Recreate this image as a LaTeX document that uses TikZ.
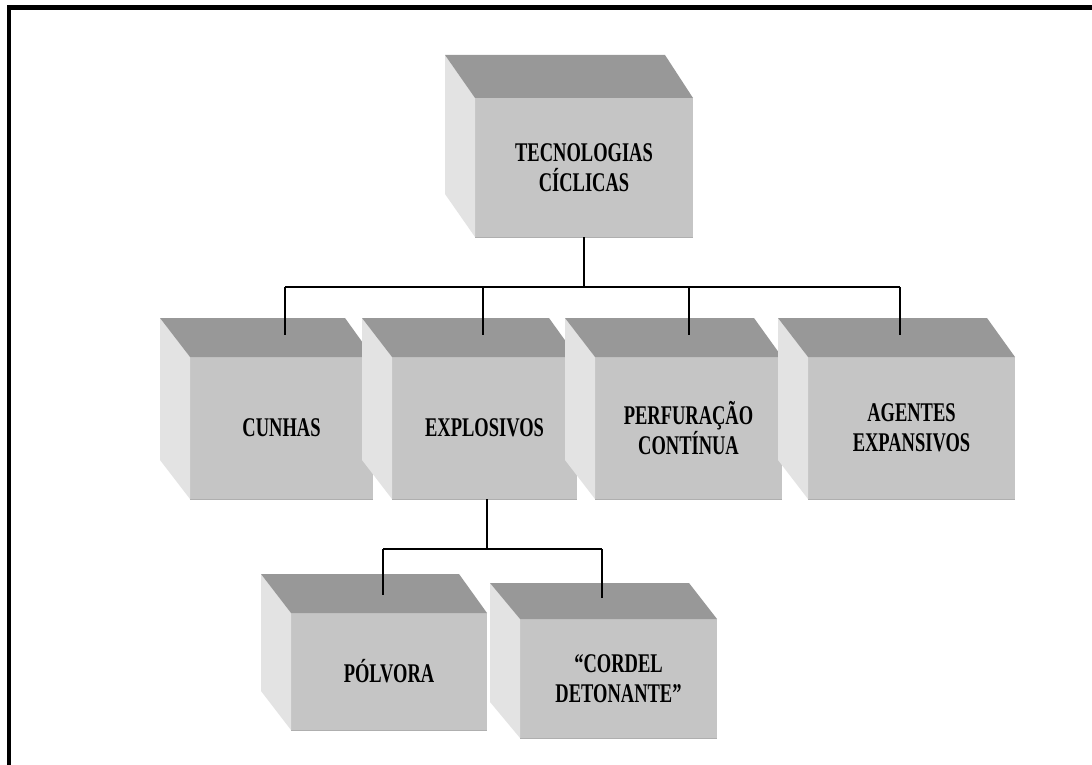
\documentclass[tikz,border=0pt]{standalone}
\usepackage{fontspec}
\newfontfamily\boxfam{Liberation Serif}[FakeStretch=0.685]
\definecolor{topgray}{RGB}{152,152,152}
\definecolor{frontgray}{RGB}{197,197,197}
\definecolor{sidegray}{RGB}{227,227,227}
\definecolor{edgegray}{RGB}{175,175,175}
\tikzset{
  frontface/.style={fill=frontgray, inner sep=0pt, outer sep=0pt, align=center,
    font=\boxfam\bfseries\fontsize{27}{30}\selectfont, text=black},
  topface/.style={fill=topgray},
  sideface/.style={fill=sidegray},
  link/.style={draw=black, line width=1.8pt},
  frame/.style={draw=black, line width=4.5pt},
}
% name, left, top, right, bottom, depth, text
\newcommand\cubebox[7]{%
  \node[frontface, minimum width={(#4-#2)*1pt}, minimum height={(#5-#3)*1pt}]
    (#1) at ({(#2+#4)/2},{(#3+#5)/2}) {#7};
  \fill[sideface] (#1.north west) -- ++(-30,-#6) -- ([shift={(-30,-#6)}]#1.south west)
    -- (#1.south west) -- cycle;
  \fill[topface] (#1.north west) -- ++(-30,-#6) -- ([shift={(-28,-#6)}]#1.north east)
    -- (#1.north east) -- cycle;
  \draw[edgegray, line width=1pt] (#1.south west) -- (#1.south east);
}
\begin{document}
\begin{tikzpicture}[x=1pt, y=-1pt]
\useasboundingbox[fill=white] (0,0) rectangle (1092,765);
% frame (top and left edges only)
\draw[frame] (9,765) -- (9,7.5) -- (1092,7.5);

% boxes
\cubebox{tec}{475}{98}{693}{237}{43}{TECNOLOGIAS\\CÍCLICAS}
\cubebox{cunhas}{190}{357}{373}{499}{39}{CUNHAS}
\cubebox{expl}{392}{357}{577}{499}{39}{EXPLOSIVOS}
\cubebox{perf}{595}{357}{782}{499}{39}{PERFURAÇÃO\\CONTÍNUA}
\cubebox{agen}{808}{357}{1015}{499}{39}{AGENTES\\EXPANSIVOS}
\cubebox{polv}{291}{613}{487}{730}{39}{PÓLVORA}
\cubebox{cord}{520}{619}{717}{738}{36}{“CORDEL\\DETONANTE”}

% connector coordinates
\coordinate (bus1) at (0,287);
\coordinate (d1) at (285,335);
\coordinate (d2) at (483,335);
\coordinate (d3) at (689,335);
\coordinate (d4) at (900,335);
\coordinate (bus2) at (0,549);
\coordinate (e0) at (487,499);
\coordinate (e1) at (383,595);
\coordinate (e2) at (602,598);

% upper tree
\draw[link] (tec.south) -- ([yshift=-1]tec.south |- bus1);
\draw[link] (d1 |- bus1) -- (d4 |- bus1);
\foreach \d in {d1,d2,d3,d4} \draw[link] (\d |- bus1) -- (\d);
% lower tree
\draw[link] (e0) -- (e0 |- bus2);
\draw[link] (e1 |- bus2) -- (e2 |- bus2);
\draw[link] (e1 |- bus2) -- (e1);
\draw[link] (e2 |- bus2) -- (e2);
\end{tikzpicture}
\end{document}
